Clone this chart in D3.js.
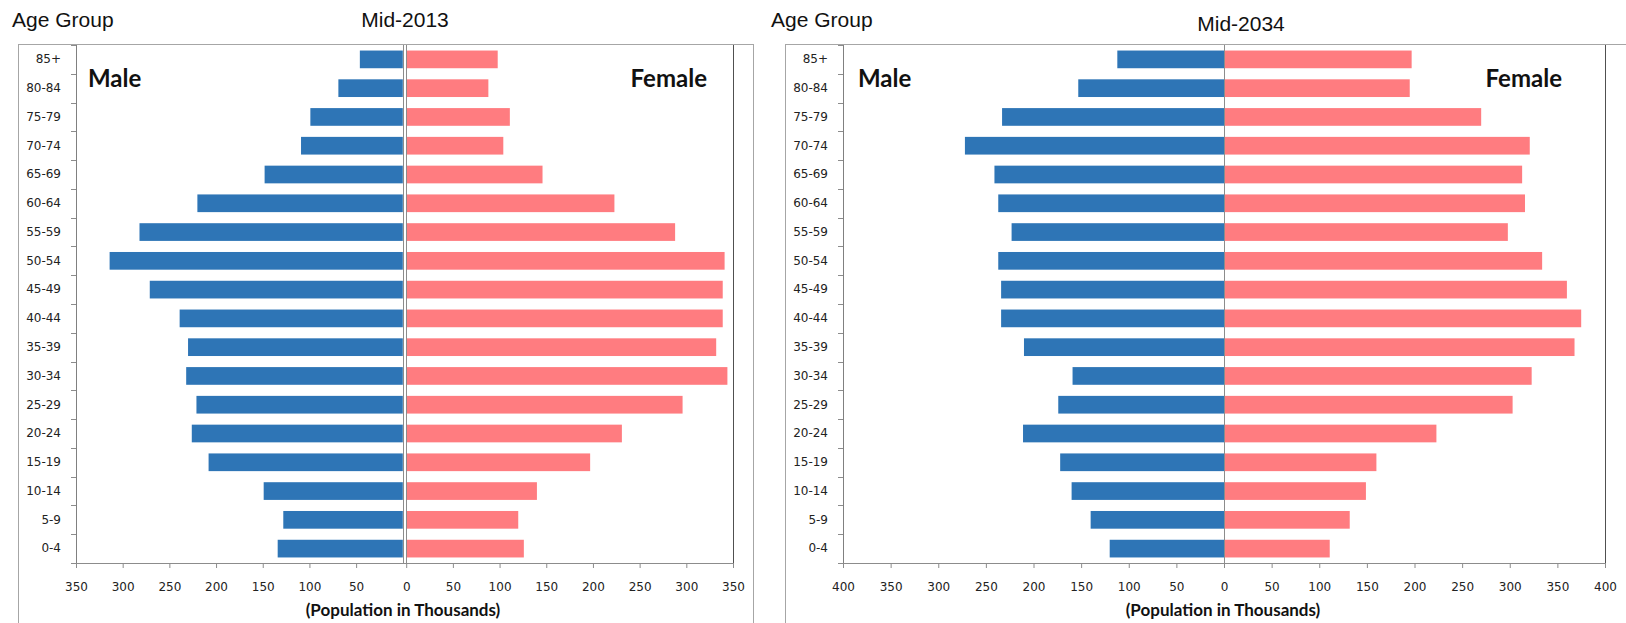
<!DOCTYPE html>
<html>
<head>
<meta charset="utf-8">
<script src="https://cdn.jsdelivr.net/npm/d3@7"></script>
<style>
  body { margin: 0; background: #fff; }
  svg { display: block; }
</style>
</head>
<body>
<svg class="pyramids" width="1626" height="623"></svg>
<script>
// age groups, bottom to top
const ageGroups = [`0-4`, `5-9`, `10-14`, `15-19`, `20-24`, `25-29`, `30-34`, `35-39`, `40-44`,
  `45-49`, `50-54`, `55-59`, `60-64`, `65-69`, `70-74`, `75-79`, `80-84`, `85+`];

// population in thousands
const male2013 = [134, 128, 149, 208, 226, 221, 232, 230, 239, 271, 314, 282, 220, 148, 109, 99, 69, 46];
const female2013 = [126, 120, 140, 197, 231, 296, 344, 332, 339, 339, 341, 288, 223, 146, 104, 111, 88, 98];
const male2034 = [120, 140, 160, 172, 211, 174, 159, 210, 234, 234, 237, 223, 237, 241, 272, 233, 153, 112];
const female2034 = [111, 132, 149, 160, 223, 303, 323, 368, 375, 360, 334, 298, 316, 313, 321, 270, 195, 197];

const ticks2013 = [0, 50, 100, 150, 200, 250, 300, 350];
const ticks2034 = [0, 50, 100, 150, 200, 250, 300, 350, 400];

const blue = `#2e75b6`;
const pink = `#ff7c80`;
const plotTop = 45;
const plotBottom = 563;

const charts = [
  {
    title: `Mid-2013`, male: male2013, female: female2013, ticks: ticks2013,
    boxLeft: 18, boxRight: 753, plotLeft: 76, plotRight: 733, gap: 3.4,
    titleX: 405, titleY: 27, ageX: 12, ageY: 27, maleX: 88, femaleX: 707, popX: 403
  },
  {
    title: `Mid-2034`, male: male2034, female: female2034, ticks: ticks2034,
    boxLeft: 785, boxRight: 1660, plotLeft: 843, plotRight: 1605, gap: 0,
    titleX: 1241, titleY: 31, ageX: 771, ageY: 27, maleX: 858, femaleX: 1562, popX: 1223
  }
];

const svg = d3.select(`.pyramids`);

const drawChart = c => {
  const g = svg.append(`g`);
  const max = d3.max(c.ticks);
  const mid = (c.plotLeft + c.plotRight) / 2;

  const xMale = d3.scaleLinear()
    .domain([max, 0])
    .range([c.plotLeft, mid - c.gap / 2]);

  const xFemale = d3.scaleLinear()
    .domain([0, max])
    .range([mid + c.gap / 2, c.plotRight]);

  const y = d3.scaleBand()
    .domain(ageGroups)
    .range([plotBottom, plotTop])
    .paddingInner(0.385)
    .paddingOuter(0.1925);

  // outer frame
  g.append(`rect`)
    .attr(`x`, c.boxLeft + .5)
    .attr(`y`, plotTop - .5)
    .attr(`width`, c.boxRight - c.boxLeft)
    .attr(`height`, 700)
    .attr(`fill`, `none`)
    .attr(`stroke`, `#a6a6a6`);

  // plot right border
  g.append(`line`)
    .attr(`x1`, c.plotRight + .5).attr(`x2`, c.plotRight + .5)
    .attr(`y1`, plotTop).attr(`y2`, plotBottom)
    .attr(`stroke`, `#505050`);

  // bars
  g.selectAll(`.male`)
    .data(c.male)
    .enter().append(`rect`)
    .attr(`class`, `male`)
    .attr(`x`, d => xMale(d))
    .attr(`y`, (d, i) => y(ageGroups[i]))
    .attr(`width`, d => xMale(0) - xMale(d))
    .attr(`height`, y.bandwidth())
    .attr(`fill`, blue);

  g.selectAll(`.female`)
    .data(c.female)
    .enter().append(`rect`)
    .attr(`class`, `female`)
    .attr(`x`, xFemale(0))
    .attr(`y`, (d, i) => y(ageGroups[i]))
    .attr(`width`, d => xFemale(d) - xFemale(0))
    .attr(`height`, y.bandwidth())
    .attr(`fill`, pink);

  // zero lines
  const zeros = c.gap > 0 ? [xMale(0), xFemale(0)] : [xFemale(0)];
  g.selectAll(`.zero`)
    .data(zeros)
    .enter().append(`line`)
    .attr(`class`, `zero`)
    .attr(`x1`, d => Math.round(d) + .5).attr(`x2`, d => Math.round(d) + .5)
    .attr(`y1`, plotTop).attr(`y2`, plotBottom)
    .attr(`stroke`, `#8c8c8c`);

  // y axis: labels at band centres, ticks at boundaries
  const yAxis = g.append(`g`)
    .attr(`transform`, `translate(${c.plotLeft},0)`)
    .call(d3.axisLeft(y).tickSize(0).tickPadding(15));
  yAxis.select(`.domain`).remove();
  yAxis.selectAll(`text`)
    .attr(`font-family`, `DejaVu Sans`)
    .attr(`font-size`, 12)
    .attr(`fill`, `#222`);

  g.selectAll(`.ytick`)
    .data(d3.range(ageGroups.length + 1))
    .enter().append(`line`)
    .attr(`class`, `ytick`)
    .attr(`x1`, c.plotLeft - 5).attr(`x2`, c.plotLeft)
    .attr(`y1`, i => Math.round(plotTop + i * y.step()) + .5)
    .attr(`y2`, i => Math.round(plotTop + i * y.step()) + .5)
    .attr(`stroke`, `#8c8c8c`);

  g.append(`line`)
    .attr(`x1`, c.plotLeft + .5).attr(`x2`, c.plotLeft + .5)
    .attr(`y1`, plotTop).attr(`y2`, plotBottom)
    .attr(`stroke`, `#808080`);

  // x axes
  const styleX = sel => {
    sel.select(`.domain`).remove();
    sel.selectAll(`line`).attr(`stroke`, `#8c8c8c`);
    sel.selectAll(`text`)
      .attr(`font-family`, `DejaVu Sans`)
      .attr(`font-size`, 12)
      .attr(`fill`, `#222`);
  };

  g.append(`g`)
    .attr(`transform`, `translate(0,${plotBottom})`)
    .call(d3.axisBottom(xMale).tickValues(c.ticks.slice(1)).tickSize(5).tickPadding(14))
    .call(styleX);

  g.append(`g`)
    .attr(`transform`, `translate(0,${plotBottom})`)
    .call(d3.axisBottom(xFemale).tickValues(c.ticks).tickSize(5).tickPadding(14))
    .call(styleX);

  g.append(`line`)
    .attr(`x1`, c.plotLeft - 5).attr(`x2`, c.plotRight + 1)
    .attr(`y1`, plotBottom + .5).attr(`y2`, plotBottom + .5)
    .attr(`stroke`, `#8c8c8c`);

  // texts
  g.append(`text`)
    .attr(`x`, c.ageX)
    .attr(`y`, c.ageY)
    .attr(`font-family`, `Liberation Sans, Arial, sans-serif`)
    .attr(`font-size`, 21)
    .attr(`fill`, `#111`)
    .text(`Age Group`);

  g.append(`text`)
    .attr(`x`, c.titleX)
    .attr(`y`, c.titleY)
    .attr(`text-anchor`, `middle`)
    .attr(`font-family`, `Liberation Sans, Arial, sans-serif`)
    .attr(`font-size`, 21)
    .attr(`fill`, `#111`)
    .text(c.title);

  g.append(`text`)
    .attr(`x`, c.maleX)
    .attr(`y`, 87)
    .attr(`font-family`, `Lato, sans-serif`)
    .attr(`font-weight`, `bold`)
    .attr(`font-size`, 24)
    .attr(`fill`, `#111`)
    .text(`Male`);

  g.append(`text`)
    .attr(`x`, c.femaleX)
    .attr(`y`, 87)
    .attr(`text-anchor`, `end`)
    .attr(`font-family`, `Lato, sans-serif`)
    .attr(`font-weight`, `bold`)
    .attr(`font-size`, 24)
    .attr(`fill`, `#111`)
    .text(`Female`);

  g.append(`text`)
    .attr(`x`, c.popX)
    .attr(`y`, 616)
    .attr(`text-anchor`, `middle`)
    .attr(`font-family`, `Lato, sans-serif`)
    .attr(`font-weight`, `bold`)
    .attr(`font-size`, 17)
    .attr(`fill`, `#111`)
    .text(`(Population in Thousands)`);
};

charts.forEach(drawChart);
</script>
</body>
</html>
